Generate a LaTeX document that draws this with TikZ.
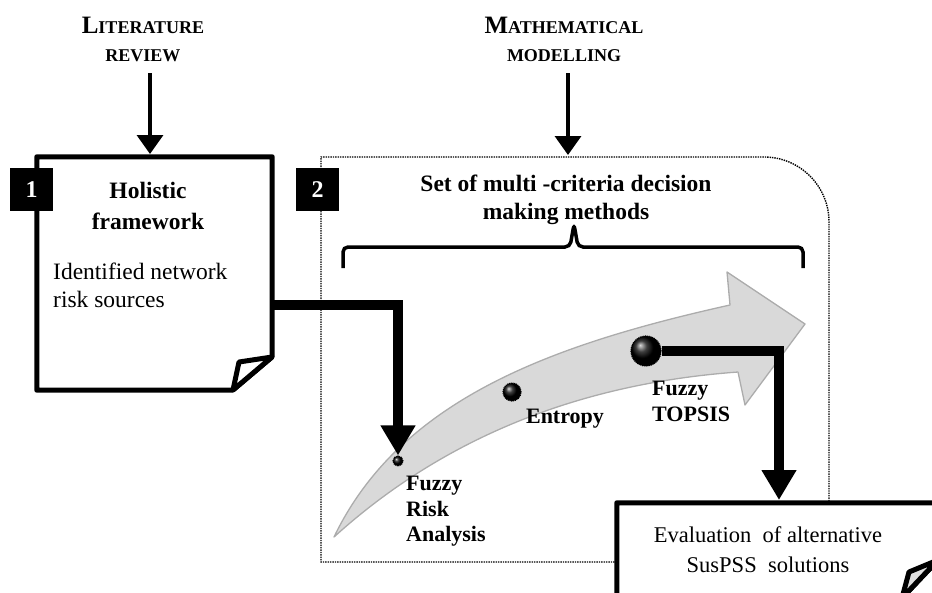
\documentclass[tikz,border=0pt]{standalone}
\usepackage{fontspec}
\setmainfont{Liberation Serif}
\usetikzlibrary{arrows.meta}

\begin{document}
\begin{tikzpicture}[x=1pt, y=-1pt,
    heading/.style={align=center, inner sep=0pt,
      font=\bfseries\fontsize{18}{28}\selectfont},
    numbox/.style={fill=black, text=white, minimum size=43pt, inner sep=0pt,
      font=\bfseries\fontsize{24}{24}\selectfont},
    paper/.style={line width=5pt, line join=round},
    feed/.style={line width=3.5pt, -{Triangle[width=26pt,length=19pt]}},
    conn/.style={line width=10pt, -{Triangle[width=33pt,length=30pt]}},
    method/.style={align=left, inner sep=0pt,
      font=\bfseries\fontsize{22}{25.5}\selectfont},
    blob/.style={circle, ball color=black, inner sep=0pt, minimum size=#1,
      draw=black, line width=1.2pt, dash pattern=on 1pt off 0.8pt}]

  \useasboundingbox (0,0) rectangle (932,592);
  \clip (0,0) rectangle (932,592);

  % headings
  \node[heading] (lit) at (143,39) {{\fontsize{25}{28}\selectfont L}ITERATURE\\REVIEW};
  \node[heading] (math) at (564,39) {{\fontsize{25}{28}\selectfont M}ATHEMATICAL\\MODELLING};
  \coordinate (litout) at (150,73);
  \coordinate (litin) at (150,154);
  \coordinate (mathout) at (568,73);
  \coordinate (mathin) at (568,155);
  \draw[feed] (litout) -- (litin);
  \draw[feed] (mathout) -- (mathin);

  % method container
  \draw[densely dotted, line width=1.4pt] (617,562) -- (321,562) -- (321,157) -- (764,157)
    arc[start angle=-90, end angle=0, radius=65] -- (829,503);
  \node[font=\bfseries\fontsize{23.5}{28}\selectfont, align=center] (mcdm) at (566,200)
    {Set of multi -criteria decision\\making methods};
  \draw[line width=3.5pt, rounded corners=5pt] (343,268) -- (343,247) -- (570,247)
    -- (574,224) -- (578,247) -- (803,247) -- (803,268);

  % grey process arrow
  \filldraw[fill=gray!30, draw=gray!65, line width=1.3pt, line join=round]
    (334,537) .. controls (400,400) and (550,345) .. (730,305) -- (727,272)
    -- (805,324) -- (745,405) -- (738,372)
    .. controls (560,385) and (430,450) .. (334,537) -- cycle;

  \node[blob=10pt] (fra) at (398,461) {};
  \node[blob=18pt] (entropy) at (512,392) {};
  \node[blob=30pt] (topsis) at (646,351) {};

  \node[method, anchor=north west] (fralabel) at (406,476) {Fuzzy\\Risk\\Analysis};
  \node[method] (entlabel) at (565,419) {Entropy};
  \node[method, anchor=north west] (toplabel) at (652,381) {Fuzzy\\TOPSIS};

  % connectors
  \coordinate (out1) at (270,305);
  \coordinate (evaltop) at (779,500);
  \draw[conn] (out1) -| (fra.north);
  \draw[conn] (topsis.east) -| (evaltop);

  % box 1
  \node[minimum width=235pt, minimum height=233pt, inner sep=0pt] (holistic) at (154.5,273.5) {};
  \draw[paper, fill=white] (holistic.north west) -- (holistic.north east) -- (272,357)
    -- (233,390) -- (holistic.south west) -- cycle;
  \draw[paper, fill=white] (272,357) -- (239,362) -- (233,390) -- cycle;
  \node[numbox] (n1) at (31.5,189.5) {1};
  \node[font=\bfseries\fontsize{23.5}{31}\selectfont, align=center] (holtitle) at (148,206)
    {Holistic\\framework};
  \node[font=\fontsize{23.5}{28}\selectfont, align=left, anchor=north west, inner sep=0pt]
    (holtext) at (53,263) {Identified network\\risk sources};

  \node[numbox] (n2) at (317.5,189.5) {2};

  % evaluation box
  \node[minimum width=321pt, minimum height=95pt, inner sep=0pt] (evalbox) at (777.5,550.5) {};
  \draw[paper, fill=white] (evalbox.north west) -- (evalbox.north east) -- (938,560)
    -- (902,598) -- (evalbox.south west) -- cycle;
  \draw[paper, fill=gray!25] (938,560) -- (909,572) -- (902,598) -- cycle;
  \node[font=\fontsize{22.5}{30}\selectfont, align=center] (evaltext) at (768,550)
    {Evaluation\ \ of alternative\\SusPSS\ \ solutions};
\end{tikzpicture}
\end{document}
